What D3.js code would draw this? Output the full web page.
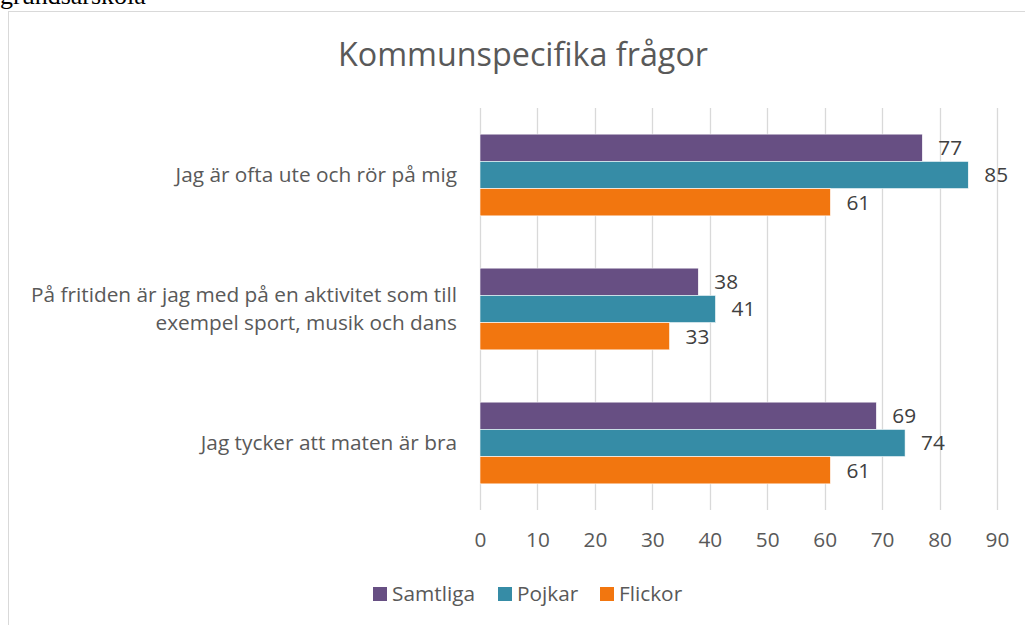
<!DOCTYPE html>
<html>
<head>
<meta charset="utf-8">
<script src="https://cdn.jsdelivr.net/npm/d3@7"></script>
<style>
  html, body { margin: 0; padding: 0; background: #fff; }
  svg { display: block; }
</style>
</head>
<body>
<svg id="chart" width="1025" height="625"></svg>
<script>
// Survey questions, top to bottom
const categories = [
  "Jag är ofta ute och rör på mig",
  "På fritiden är jag med på en aktivitet som till|exempel sport, musik och dans",
  "Jag tycker att maten är bra"
];
const seriesNames = ["Samtliga", "Pojkar", "Flickor"];
const samtliga = [77, 38, 69];
const pojkar = [85, 41, 74];
const flickor = [61, 33, 61];
const tickValues = [0, 10, 20, 30, 40, 50, 60, 70, 80, 90];
const colors = ["#674f83", "#368ca6", "#f2760f"];

const seriesValues = [samtliga, pojkar, flickor];
const svg = d3.select("#chart");
const font = "'Open Sans', 'Noto Sans', sans-serif";
const fs = 20.8;

// Heading line above the frame, running off the top edge
svg.append("text")
  .attr("x", 0).attr("y", 4)
  .attr("font-family", "'Liberation Serif', serif")
  .attr("font-size", 26)
  .attr("fill", "#000")
  .text("grundsärskola");

// Chart frame
svg.append("rect")
  .attr("x", 8.5).attr("y", 11.5)
  .attr("width", 1030).attr("height", 640)
  .attr("fill", "#fff")
  .attr("stroke", "#d9d9d9").attr("stroke-width", 1);

// Title
svg.append("text")
  .attr("x", 523).attr("y", 66)
  .attr("text-anchor", "middle")
  .attr("font-family", font)
  .attr("font-size", 32.3)
  .attr("fill", "#595959")
  .text("Kommunspecifika frågor");

const plot = { left: 480, right: 997, top: 108, bottom: 510 };

const x = d3.scaleLinear().domain([0, 90]).range([plot.left, plot.right]);
const y = d3.scaleBand().domain(d3.range(categories.length))
  .range([plot.top, plot.bottom]).paddingInner(0.39).paddingOuter(0.195);
const ySub = d3.scaleBand().domain(d3.range(seriesNames.length))
  .range([0, y.bandwidth()]);

// Vertical gridlines
svg.append("g").selectAll("line")
  .data(tickValues)
  .join("line")
  .attr("x1", d => Math.round(x(d)) + 0.5).attr("x2", d => Math.round(x(d)) + 0.5)
  .attr("y1", plot.top).attr("y2", plot.bottom)
  .attr("stroke", "#d9d9d9").attr("stroke-width", 1.3);

// Value axis labels
const axis = d3.axisBottom(x).tickValues(tickValues).tickSize(0).tickPadding(0);
const axisG = svg.append("g").attr("transform", `translate(0, ${plot.bottom + 30})`).call(axis);
axisG.select(".domain").remove();
axisG.selectAll("text")
  .attr("font-family", font).attr("font-size", fs)
  .attr("fill", "#595959").attr("dy", "0.34em");

// Bars and value labels
seriesValues.forEach((vals, s) => {
  const g = svg.append("g");
  g.selectAll("rect")
    .data(vals)
    .join("rect")
    .attr("x", x(0))
    .attr("y", (d, i) => y(i) + ySub(s))
    .attr("width", d => x(d) - x(0))
    .attr("height", ySub.bandwidth())
    .attr("fill", colors[s])
    .attr("stroke", "#fff").attr("stroke-width", 0.6);
  g.selectAll("text")
    .data(vals)
    .join("text")
    .attr("x", d => x(d) + 16)
    .attr("y", (d, i) => y(i) + ySub(s) + ySub.bandwidth() / 2)
    .attr("dy", "0.36em")
    .attr("font-family", font).attr("font-size", fs)
    .attr("fill", "#404040")
    .text(d => d);
});

// Category labels
categories.forEach((c, i) => {
  const lines = c.split("|");
  const cy = y(i) + y.bandwidth() / 2;
  const lh = 28;
  const t = svg.append("text")
    .attr("text-anchor", "end")
    .attr("font-family", font).attr("font-size", fs)
    .attr("fill", "#595959");
  lines.forEach((ln, k) => {
    t.append("tspan")
      .attr("x", 457)
      .attr("y", cy + (k - (lines.length - 1) / 2) * lh)
      .attr("dy", "0.36em")
      .text(ln);
  });
});

// Legend
const legendX = [373, 498, 600];
const legend = svg.append("g");
seriesNames.forEach((n, s) => {
  legend.append("rect")
    .attr("x", legendX[s]).attr("y", 587)
    .attr("width", 14).attr("height", 14)
    .attr("fill", colors[s]);
  legend.append("text")
    .attr("x", legendX[s] + 19).attr("y", 594)
    .attr("dy", "0.36em")
    .attr("font-family", font).attr("font-size", fs)
    .attr("fill", "#595959")
    .text(n);
});
</script>
</body>
</html>
